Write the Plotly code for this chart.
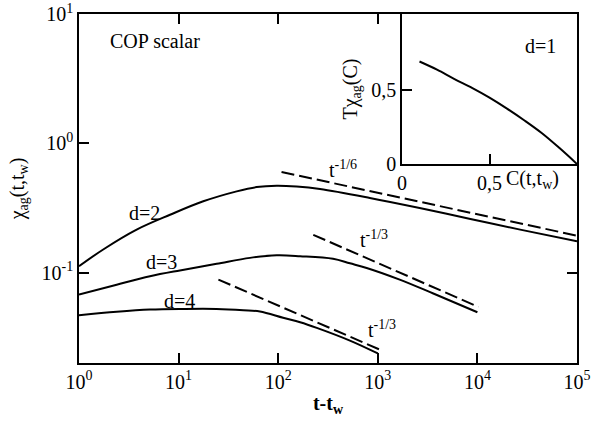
import plotly.graph_objects as go

# ---- data ----
d2_x = [1, 1.75, 3.79, 8.2, 17.7, 38.3, 60.8, 96.6, 153, 263, 832, 2630, 8510, 26900, 100000]
d2_y = [0.112, 0.151, 0.215, 0.280, 0.356, 0.425, 0.459, 0.470, 0.463, 0.443, 0.378, 0.316, 0.260, 0.215, 0.175]

d3_x = [1, 2.39, 5.16, 10.3, 24.1, 52.1, 96.6, 166, 355, 525, 773, 1660, 3610, 10000]
d3_y = [0.0676, 0.0807, 0.0937, 0.104, 0.117, 0.130, 0.136, 0.134, 0.128, 0.118, 0.1087, 0.0883, 0.0689, 0.0494]

d4_x = [1, 2.39, 5.16, 11.1, 24.0, 44.7, 65.6, 112, 166, 244, 525, 1000]
d4_y = [0.0468, 0.0498, 0.0518, 0.0524, 0.0524, 0.0512, 0.0500, 0.0447, 0.0413, 0.0374, 0.0298, 0.0237]

g16_x = [108, 100000]
g16_y = [0.600, 0.193]
g3a_x = [225, 10230]
g3a_y = [0.196, 0.0543]
g4_x = [25.1, 1135]
g4_y = [0.0883, 0.0247]

ins_C = [0.10, 0.20, 0.30, 0.40, 0.50, 0.60, 0.70, 0.80, 0.90, 1.00]
ins_T = [0.690, 0.635, 0.572, 0.513, 0.447, 0.373, 0.293, 0.207, 0.107, 0.0]

x_tickvals = [1, 10, 100, 1000, 10000, 100000]
x_ticktext = ["10<sup>0</sup>", "10<sup>1</sup>", "10<sup>2</sup>", "10<sup>3</sup>", "10<sup>4</sup>", "10<sup>5</sup>"]
y_tickvals = [0.1, 1, 10]
y_ticktext = ["10<sup>-1</sup>", "10<sup>0</sup>", "10<sup>1</sup>"]
ins_xtickvals = [0, 0.5]
ins_xticktext = ["0", "0,5"]
ins_ytickvals = [0, 0.5]
ins_yticktext = ["0", "0,5"]

FONT = "Liberation Serif"
W, H = 606, 424
L, R, T, B = 79, 29, 14, 61
PW, PH = W - L - R, H - T - B

def px(x):
    return (x - L) / PW

def py(y):
    return (H - B - y) / PH

solid = dict(color="black", width=2)
dashed = dict(color="black", width=2, dash="13px,5px")

fig = go.Figure()
fig.add_trace(go.Scatter(x=d2_x, y=d2_y, mode="lines", line=solid, line_shape="spline", name="d=2"))
fig.add_trace(go.Scatter(x=d3_x, y=d3_y, mode="lines", line=solid, line_shape="spline", name="d=3"))
fig.add_trace(go.Scatter(x=d4_x, y=d4_y, mode="lines", line=solid, line_shape="spline", name="d=4"))
fig.add_trace(go.Scatter(x=g16_x, y=g16_y, mode="lines", line=dashed, name="t^-1/6"))
fig.add_trace(go.Scatter(x=g3a_x, y=g3a_y, mode="lines", line=dashed, name="t^-1/3 (d=3)"))
fig.add_trace(go.Scatter(x=g4_x, y=g4_y, mode="lines", line=dashed, name="t^-1/3 (d=4)"))
fig.add_trace(go.Scatter(x=ins_C, y=ins_T, mode="lines", line=solid, line_shape="spline",
                         xaxis="x2", yaxis="y2", name="d=1"))

def tf():
    return dict(family=FONT, size=20, color="black")

def axis_common():
    return dict(showgrid=False, zeroline=False, showline=True, linecolor="black", linewidth=1.5,
                ticks="inside", ticklen=10, tickwidth=1.5, tickcolor="black", tickfont=tf())

ins_x0 = px(402)
ins_y0 = py(164)

fig.update_layout(
    width=W, height=H,
    margin=dict(l=L, r=R, t=T, b=B, autoexpand=False),
    paper_bgcolor="white", plot_bgcolor="white",
    showlegend=False,
    font=tf(),
    xaxis=dict(type="log", range=[0, 5], tickvals=x_tickvals, ticktext=x_ticktext,
               mirror="ticks", domain=[0, 1],
               title=dict(text="<b>t-t<sub>w</sub></b>", font=tf(), standoff=4),
               **axis_common()),
    yaxis=dict(type="log", range=[-1.699, 1], tickvals=y_tickvals, ticktext=y_ticktext,
               mirror="ticks", domain=[0, 1],
               title=dict(text="χ<sub>ag</sub>(t,t<sub>w</sub>)", font=tf(), standoff=12),
               **axis_common()),
    xaxis2=dict(range=[0, 1], tickvals=ins_xtickvals, ticktext=ins_xticktext, anchor="y2",
                domain=[ins_x0, 1], mirror=True, **axis_common()),
    yaxis2=dict(range=[0, 1.01], tickvals=ins_ytickvals, ticktext=ins_yticktext, anchor="x2",
                domain=[ins_y0, 1], mirror=True,
                title=dict(text="Tχ<sub>ag</sub>(C)", font=tf(), standoff=8),
                **axis_common()),
)

def add_text(text, x, y, xa, ya):
    fig.add_annotation(text=text, x=px(x), y=py(y), xref="paper", yref="paper", showarrow=False,
                       xanchor=xa, yanchor=ya, font=tf())

add_text("COP scalar", 155, 41, "center", "middle")
add_text("d=2", 144, 213, "center", "middle")
add_text("d=3", 161.5, 262, "center", "middle")
add_text("d=4", 179, 301, "center", "middle")
add_text("d=1", 540, 45.5, "center", "middle")
add_text("t<sup>-1/6</sup>", 327, 183, "left", "bottom")
add_text("t<sup>-1/3</sup>", 358, 253, "left", "bottom")
add_text("t<sup>-1/3</sup>", 366, 343, "left", "bottom")
add_text("C(t,t<sub>w</sub>)", 504, 165, "left", "top")

fig.write_html("out.html", config={"displayModeBar": False},
               post_script="document.body.style.margin='0';document.body.style.padding='0';")
